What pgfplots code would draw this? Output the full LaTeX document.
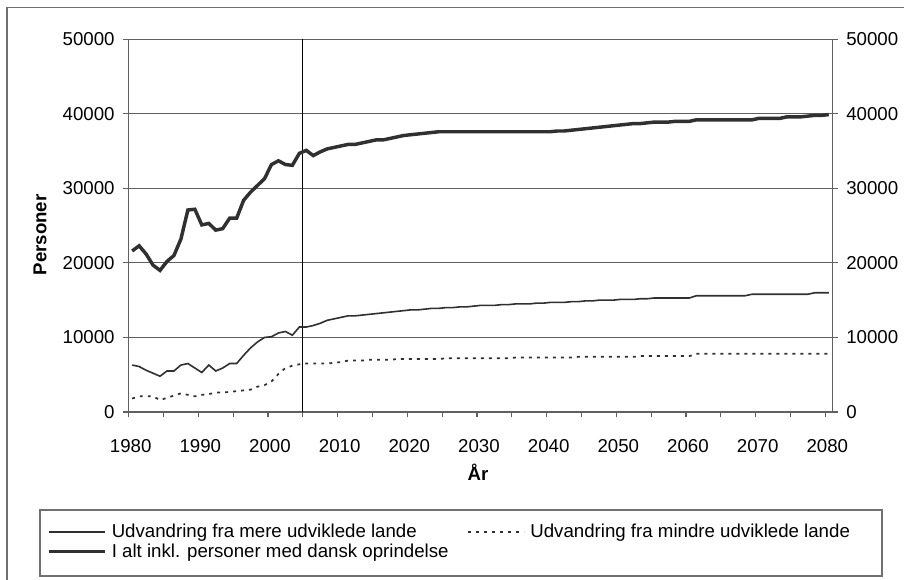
\documentclass[border=0pt]{standalone}
\usepackage{fontspec}
\setmainfont{Liberation Sans}
\usepackage{pgfplots}
\pgfplotsset{compat=1.18}
\usepackage{pgfplotstable}

\pgfplotstableread{
year mere mindre ialt
1980 6300 1800 21600
1981 6100 2100 22300
1982 5600 2100 21200
1983 5200 2100 19700
1984 4800 1600 19000
1985 5500 1900 20200
1986 5500 2200 21000
1987 6300 2500 23200
1988 6500 2300 27100
1989 5900 2100 27200
1990 5300 2300 25100
1991 6300 2400 25300
1992 5500 2600 24400
1993 5900 2600 24600
1994 6500 2700 26000
1995 6500 2800 26000
1996 7600 2900 28400
1997 8600 3000 29500
1998 9400 3400 30400
1999 10000 3600 31300
2000 10100 4100 33200
2001 10600 5100 33700
2002 10800 5900 33200
2003 10300 6200 33100
2004 11400 6400 34700
2005 11400 6500 35100
2006 11600 6500 34400
2007 11900 6500 34900
2008 12300 6500 35300
2009 12500 6600 35500
2010 12700 6700 35700
2011 12900 6900 35900
2012 12900 6900 35900
2013 13000 6900 36100
2014 13100 7000 36300
2015 13200 7000 36500
2016 13300 7000 36500
2017 13400 7000 36700
2018 13500 7100 36900
2019 13600 7100 37100
2020 13700 7100 37200
2021 13700 7100 37300
2022 13800 7100 37400
2023 13900 7100 37500
2024 13900 7100 37600
2025 14000 7200 37600
2026 14000 7200 37600
2027 14100 7200 37600
2028 14100 7200 37600
2029 14200 7200 37600
2030 14300 7200 37600
2031 14300 7200 37600
2032 14300 7200 37600
2033 14400 7200 37600
2034 14400 7200 37600
2035 14500 7300 37600
2036 14500 7300 37600
2037 14500 7300 37600
2038 14600 7300 37600
2039 14600 7300 37600
2040 14700 7300 37600
2041 14700 7300 37700
2042 14700 7300 37700
2043 14800 7300 37800
2044 14800 7400 37900
2045 14900 7400 38000
2046 14900 7400 38100
2047 15000 7400 38200
2048 15000 7400 38300
2049 15000 7400 38400
2050 15100 7400 38500
2051 15100 7400 38600
2052 15100 7400 38700
2053 15200 7500 38700
2054 15200 7500 38800
2055 15300 7500 38900
2056 15300 7500 38900
2057 15300 7500 38900
2058 15300 7500 39000
2059 15300 7500 39000
2060 15300 7500 39000
2061 15600 7800 39200
2062 15600 7800 39200
2063 15600 7800 39200
2064 15600 7800 39200
2065 15600 7800 39200
2066 15600 7800 39200
2067 15600 7800 39200
2068 15600 7800 39200
2069 15800 7800 39200
2070 15800 7800 39400
2071 15800 7800 39400
2072 15800 7800 39400
2073 15800 7800 39400
2074 15800 7800 39600
2075 15800 7800 39600
2076 15800 7800 39600
2077 15800 7800 39700
2078 16000 7800 39800
2079 16000 7800 39800
2080 16000 7800 39900
}\data

\definecolor{ln}{HTML}{303030}
\definecolor{gr}{HTML}{606060}
\definecolor{fr}{HTML}{707070}

\pgfplotsset{
  every axis/.append style={font=\fontsize{14}{17}\selectfont},
  tick label style={font=\fontsize{14}{17}\selectfont},
  /pgf/number format/1000 sep={},
  /pgf/number format/assume math mode=true,
}

\begin{document}
\begin{tikzpicture}
\useasboundingbox (0,0) rectangle (678pt,435pt);
\draw[fr, line width=1.1pt] (5.25pt,-10pt) -- (5.25pt,429.4pt) -- (700pt,429.4pt);
\draw[fr, line width=1.1pt] (30pt,3pt) rectangle (661.5pt,52.5pt);

\begin{axis}[
  at={(96.5pt,126pt)}, anchor=south west,
  width=527.7pt, height=279.5pt, scale only axis,
  xmin=1980, xmax=2081, ymin=0, ymax=50000,
  axis x line*=bottom, axis y line*=left,
  axis line style={gr, line width=0.9pt},
  xtick={1980,1990,...,2080},
  minor xtick={1985,1995,...,2075},
  ytick={0,10000,...,50000},
  scaled y ticks=false,
  tick align=outside,
  major tick length=4pt, minor tick length=4pt,
  tick style={gr, line width=0.8pt},
  xticklabel style={yshift=-13pt, xshift=1.5pt},
  yticklabel style={xshift=-3pt},
  ymajorgrids,
  major grid style={gr, line width=0.8pt},
  ylabel={\bfseries Personer},
  xlabel={\bfseries År},
  ylabel style={at={(axis description cs:-0.126,0.475)}, anchor=center, rotate=0},
  xlabel style={at={(axis description cs:0.4965,-0.161)}, anchor=center},
  legend columns=2,
  legend cell align=left,
  legend image code/.code={\draw[#1] (0pt,0pt) -- (42pt,0pt);},
  legend style={at={(axis description cs:-0.1165,-0.301)}, anchor=north west,
    draw=none, fill=none, inner sep=0pt, font=\fontsize{14}{17}\selectfont,
    nodes={inner sep=0pt}, column sep=4pt, row sep=2.8pt,
    /tikz/every even column/.append style={column sep=14pt}},
]
\addplot[black, line width=1pt, forget plot] coordinates {(2005,0) (2005,50000)};
\addplot[ln, line width=1.2pt] table[x expr=\thisrow{year}+0.5, y=mere] {\data};
\addlegendentry{Udvandring fra mere udviklede lande}
\addplot[ln, line width=1.3pt, dash pattern=on 2.2pt off 3.8pt] table[x expr=\thisrow{year}+0.5, y=mindre] {\data};
\addlegendentry{Udvandring fra mindre udviklede lande}
\addplot[ln, line width=2.6pt] table[x expr=\thisrow{year}+0.5, y=ialt] {\data};
\addlegendentry{I alt inkl. personer med dansk oprindelse}
\end{axis}

\begin{axis}[
  at={(96.5pt,126pt)}, anchor=south west,
  width=527.7pt, height=279.5pt, scale only axis,
  xmin=1980, xmax=2081, ymin=0, ymax=50000,
  axis x line=none, axis y line*=right,
  axis line style={gr, line width=0.9pt},
  ytick={0,10000,...,50000},
  scaled y ticks=false,
  tick align=outside,
  major tick length=4pt,
  tick style={gr, line width=0.8pt},
  yticklabel style={xshift=3pt},
]
\end{axis}
\end{tikzpicture}
\end{document}
